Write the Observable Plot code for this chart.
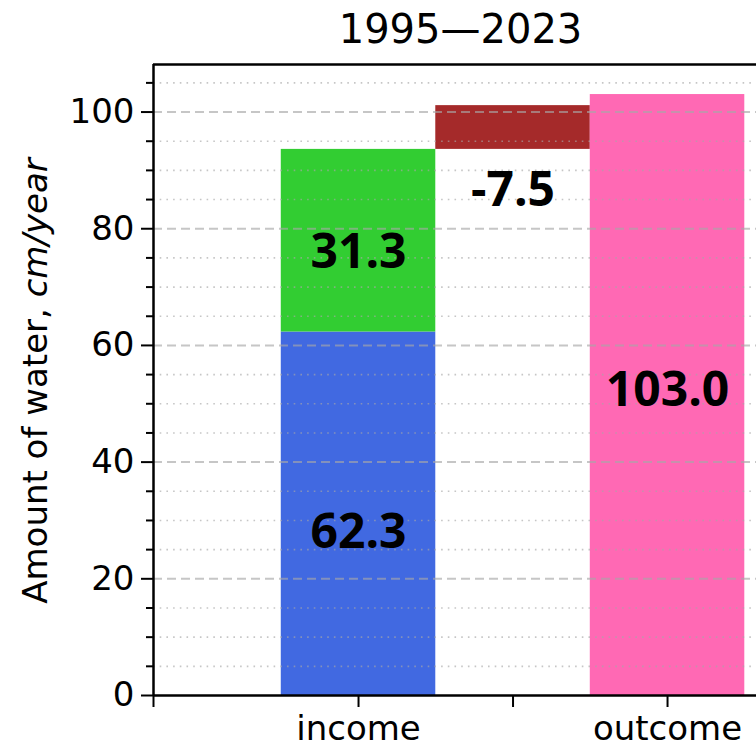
<!DOCTYPE html>
<html><head><meta charset="utf-8">
<script src="https://cdn.jsdelivr.net/npm/d3@7"></script>
<script src="https://cdn.jsdelivr.net/npm/@observablehq/plot@0.6"></script>
<style>html,body{margin:0;padding:0;background:#fff;overflow:hidden;width:756px;height:748px}
#chart{width:767px;height:748px}
#chart svg{max-width:none !important;display:block}</style>
</head><body><div id="chart"></div>
<script>
const title = "1995—2023";
const yLabelMain = "Amount of water, ";
const yLabelUnit = "cm/year";
const groups = ["income", "balance", "outcome"];
const groupTickLabels = ["income", "", "outcome"];
const segGroup = ["income", "income", "balance", "outcome"];
const segValue = [62.3, 31.3, -7.5, 103.0];
const segColor = ["#4169E1", "#32CD32", "#A52A2A", "#FF69B4"];
const labelAt = [27.9, 75.9, 86.6, 52.3];
const yMajorTicks = [0, 20, 40, 60, 80, 100];
const yMinorTicks = [5, 10, 15, 25, 30, 35, 45, 50, 55, 65, 70, 75, 85, 90, 95, 105];

// build segments (stacking)
let cum = 0, incomeTotal = 0;
segGroup.forEach((g, i) => { if (g === "income") incomeTotal += segValue[i]; });
const segs = segValue.map((v, i) => {
  const g = segGroup[i];
  let y1, y2;
  if (g === "income") { y1 = cum; y2 = cum + v; cum = y2; }
  else if (g === "balance") { y1 = incomeTotal; y2 = incomeTotal + Math.abs(v); }
  else { y1 = 0; y2 = v; }
  return {x: groups.indexOf(g), y1, y2, color: segColor[i], label: v.toFixed(1), at: labelAt[i]};
});

const xMin = -1.327, xMax = 2.647, yMax = 108.15;
const xTicks = [xMin, 0, 1, 2];
const xTickText = new Map([[xMin, ""], [0, groupTickLabels[0]], [1, groupTickLabels[1]], [2, groupTickLabels[2]]]);

const plot = Plot.plot({
  width: 767, height: 748,
  marginLeft: 153, marginRight: 0, marginTop: 64, marginBottom: 53,
  style: {fontFamily: "DejaVu Sans", fontSize: "34px", color: "#000", background: "#fff", maxWidth: "none"},
  x: {type: "linear", domain: [xMin, xMax]},
  y: {domain: [0, yMax]},
  color: {type: "identity"},
  marks: [
    Plot.rect(segs, {x1: d => d.x - 0.5, x2: d => d.x + 0.5, y1: "y1", y2: "y2", fill: "color"}),
    Plot.ruleY(yMinorTicks, {stroke: "#a8a8a8", strokeOpacity: 0.65, strokeWidth: 1.6, strokeDasharray: "1.6,5.1"}),
    Plot.ruleY(yMajorTicks.filter(v => v > 0), {stroke: "#a8a8a8", strokeOpacity: 0.65, strokeWidth: 2, strokeDasharray: "9,5"}),
    Plot.ruleX([xMin], {stroke: "#000", strokeWidth: 2.5}),
    Plot.ruleY([0, yMax], {stroke: "#000", strokeWidth: 2.5}),
    Plot.axisY(yMajorTicks, {tickSize: 12, tickPadding: 7, strokeWidth: 2, fontSize: 34, label: null}),
    Plot.axisY(yMinorTicks, {tickSize: 7, strokeWidth: 2, tickFormat: () => "", label: null}),
    Plot.axisX(xTicks, {tickSize: 12, tickPadding: 8, strokeWidth: 2, fontSize: 34, label: null, tickFormat: d => xTickText.get(d)}),
    Plot.text([title], {frameAnchor: "top", lineAnchor: "middle", dy: -34, fontSize: 40, text: d => d}),
    Plot.text(segs, {x: "x", y: "at", text: "label", fontSize: 48, fontWeight: "bold", fontFamily: "Open Sans", fill: "#000"})
  ]
});
document.getElementById("chart").appendChild(plot);

const svg = d3.select(plot);
const t = svg.append("text")
  .attr("transform", "translate(35,381) rotate(-90)")
  .attr("text-anchor", "middle")
  .attr("dominant-baseline", "central")
  .attr("font-family", "DejaVu Sans")
  .attr("font-size", 34)
  .attr("fill", "#000");
t.append("tspan").text(yLabelMain);
t.append("tspan").attr("font-style", "italic").text(yLabelUnit);
</script>
</body></html>
